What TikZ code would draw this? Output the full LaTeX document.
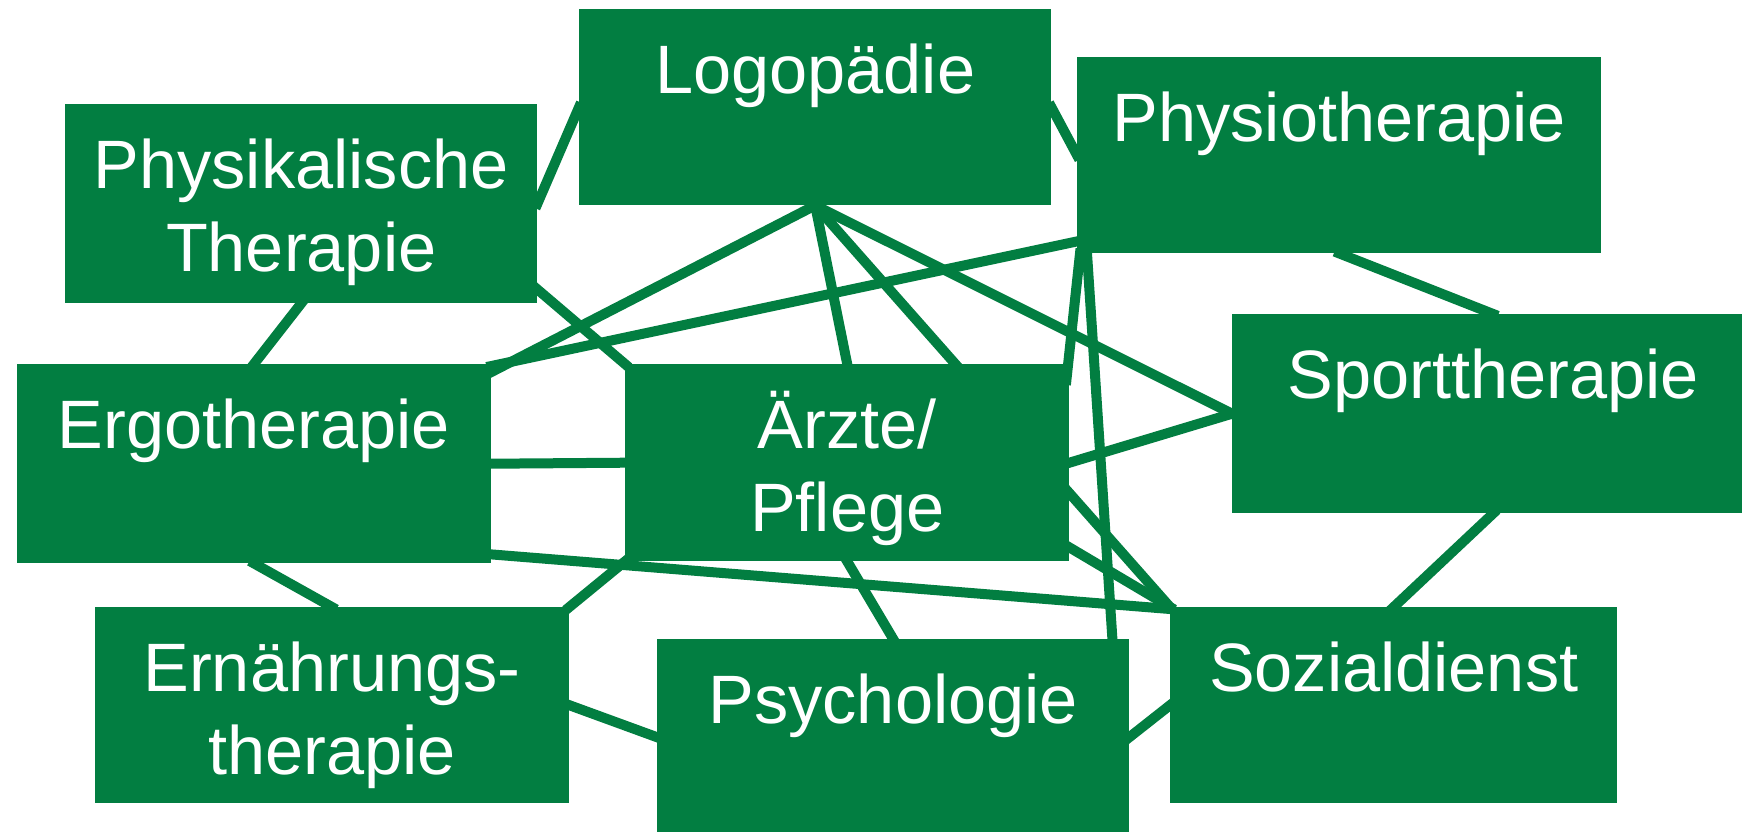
\documentclass[tikz,border=0pt]{standalone}
\usepackage{fontspec}
\setmainfont{Liberation Sans}
\usetikzlibrary{calc,backgrounds}
\definecolor{rehagreen}{RGB}{2,126,65}
\tikzset{
  unit/.style={fill=rehagreen, text=white, inner sep=0pt, anchor=north west,
    align=center, text height=84pt, font=\fontsize{68.5}{83}\selectfont},
  link/.style={draw=rehagreen, line width=10pt, shorten <=-5pt, shorten >=-5pt}
}
\begin{document}
\begin{tikzpicture}[x=1pt, y=-1pt]
      \useasboundingbox (0,0) rectangle (1742,831);
      \clip (0,0) rectangle (1742,831);
      \draw
        (579,9) node[unit, text width=472pt, text depth=112pt] (logo) {Logopädie}
        (65,104) node[unit, text width=472pt, text depth=115pt] (phys) {Physikalische\\Therapie}
        (1077,57) node[unit, text width=524pt, text depth=112pt] (physio) {Physiotherapie}
        (16.5,364) node[unit, text width=474.5pt, text depth=115pt] (ergo) {Ergotherapie}
        (625,364) node[unit, text width=444pt, text depth=113pt] (aerzte) {Ärzte/\\Pflege}
        (1232,314) node[unit, text width=522pt, text depth=115pt] (sport) {Sporttherapie}
        (94.5,607) node[unit, text width=474.5pt, text depth=112pt] (ernaehr) {Ernährungs-\\therapie}
        (657,639) node[unit, text width=472pt, text depth=112pt] (psych) {Psychologie}
        (1170,607) node[unit, text width=447pt, text depth=112pt] (sozial) {Sozialdienst};
      \begin{scope}[on background layer]
      \begin{scope}[link]
        \draw (phys.east) to (logo.west);
        \draw (phys.south) to (ergo.north);
        \draw (logo.east) to (physio.west);
        \draw (physio.south) to (sport.north);
        \draw (logo.south) to ($(ergo.north east)+(0,8)$);
        \draw ($(physio.south west)+(0,-12)$) to ($(ergo.north east)+(0,2)$);
        \draw (logo.south) to (aerzte.north);
        \draw (logo.south) to (sozial.north west);
        \draw (logo.south) to (sport.west);
        \draw ($(phys.south east)+(0,-14)$) to (aerzte.north west);
        \draw ($(physio.south west)+(3,0)$) to ($(aerzte.north east)+(-3,16)$);
        \draw ($(physio.south west)+(10,0)$) to ($(psych.north east)+(-17,0)$);
        \draw (ergo.east) to (aerzte.west);
        \draw ($(ergo.south east)+(0,-9)$) to ($(sozial.north west)+(0,2)$);
        \draw (ernaehr.north east) to (aerzte.south west);
        \draw (ergo.south) to (ernaehr.north);
        \draw (ernaehr.east) to (psych.west);
        \draw (aerzte.south) to (psych.north);
        \draw (aerzte.east) to (sport.west);
        \draw ($(aerzte.center)+(0,-47)$) to (sozial.north west);
        \draw (sport.south) to (sozial.north);
        \draw (psych.east) to (sozial.west);
      \end{scope}
      \end{scope}
    \end{tikzpicture}
\end{document}
